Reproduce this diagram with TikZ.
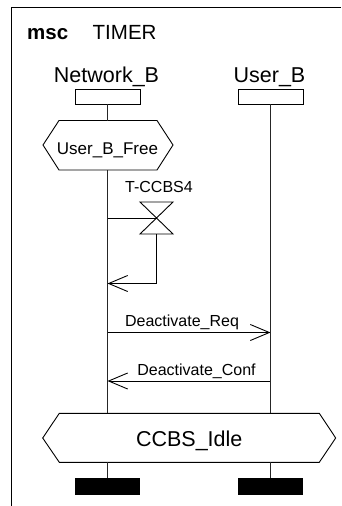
\documentclass[tikz,border=0pt]{standalone}
\usepackage{fontspec}
\setmainfont{Liberation Sans}
\usetikzlibrary{arrows.meta}
\tikzset{
  base/.style={line width=0.9pt},
  lbl/.style={inner sep=0pt, anchor=base},
  headbox/.style={draw, line width=0.9pt, minimum width=65pt, minimum height=15pt, inner sep=0pt},
  endbar/.style={fill=black, draw=none, minimum width=65pt, minimum height=16.7pt, inner sep=0pt},
  life/.style={line width=0.9pt, draw=black!85},
  msg/.style={line width=0.9pt, -{Straight Barb[length=19pt,width=16pt,line width=0.9pt]}},
  fbig/.style={font=\fontsize{21.5}{24}\selectfont},
  fmid/.style={font=\fontsize{17}{20}\selectfont},
  fsmall/.style={font=\fontsize{16}{18}\selectfont}
}
\begin{document}
\begin{tikzpicture}[x=1pt,y=-1pt]
\useasboundingbox (0,0) rectangle (341,506);
% frame
\draw[base] (11,506) -- (11,7) -- (341,7);
\node[lbl, anchor=base west, font=\bfseries\fontsize{20.5}{24}\selectfont] (msc) at (27,39) {msc};
\node[lbl, anchor=base west, font=\fontsize{20.5}{24}\selectfont] (title) at (92.5,39) {TIMER};
% instance names
\node[lbl, fbig] (nbname) at (106.5,82) {Network\_B};
\node[lbl, fbig] (ubname) at (269.5,82) {User\_B};
% heads
\node[headbox] (nbhead) at (107.5,96.5) {};
\node[headbox] (ubhead) at (270.5,96.5) {};
% condition User_B_Free
\draw[base] (43,145) -- (59,120.5) -- (157,120.5) -- (173,145) -- (157,170) -- (59,170) -- cycle;
\coordinate (freetop) at (107.5,120.5);
\coordinate (freebot) at (107.5,170);
\node[lbl, fmid] (free) at (107.5,154) {User\_B\_Free};
% timer
\node[lbl, fsmall] (tname) at (159,192.7) {T-CCBS4};
\coordinate (tc) at (156.5,218);
\coordinate (tb) at (156.5,234);
\coordinate (tturn) at (156.5,283.5);
\draw[base] (140,202) -- (173,202) -- (140,234) -- (173,234) -- cycle;
\coordinate (nbset) at (107.5,218);
\coordinate (nbtimeout) at (107.5,283.5);
\draw[base] (nbset) -- (tc);
\draw[msg] (tb) -- (tturn) -- (nbtimeout);
% messages
\coordinate (nbreq) at (107.5,332.5);
\coordinate (ubreq) at (270.5,332.5);
\coordinate (nbconf) at (107.5,381);
\coordinate (ubconf) at (270.5,381);
\draw[msg] (nbreq) -- (ubreq);
\node[lbl, fsmall] (req) at (182,326.5) {Deactivate\_Req};
\draw[msg] (ubconf) -- (nbconf);
\node[lbl, fsmall] (conf) at (196.5,375) {Deactivate\_Conf};
% condition CCBS_Idle
\draw[base] (42.7,438) -- (59.3,413.3) -- (319.3,413.3) -- (335.7,438) -- (319.3,462.3) -- (59.3,462.3) -- cycle;
\node[lbl, fbig] (idle) at (189.2,446.5) {CCBS\_Idle};
\coordinate (nbidletop) at (107.5,413.3);
\coordinate (nbidlebot) at (107.5,462.3);
\coordinate (ubidletop) at (270.5,413.3);
\coordinate (ubidlebot) at (270.5,462.3);
% ends
\node[endbar] (nbend) at (107.5,486.7) {};
\node[endbar] (ubend) at (270.5,486.7) {};
% lifelines
\draw[life] (nbhead.south) -- (freetop);
\draw[life] (freebot) -- (nbidletop);
\draw[life] (nbidlebot) -- (nbend.north);
\draw[life] (ubhead.south) -- (ubidletop);
\draw[life] (ubidlebot) -- (ubend.north);
\end{tikzpicture}
\end{document}
